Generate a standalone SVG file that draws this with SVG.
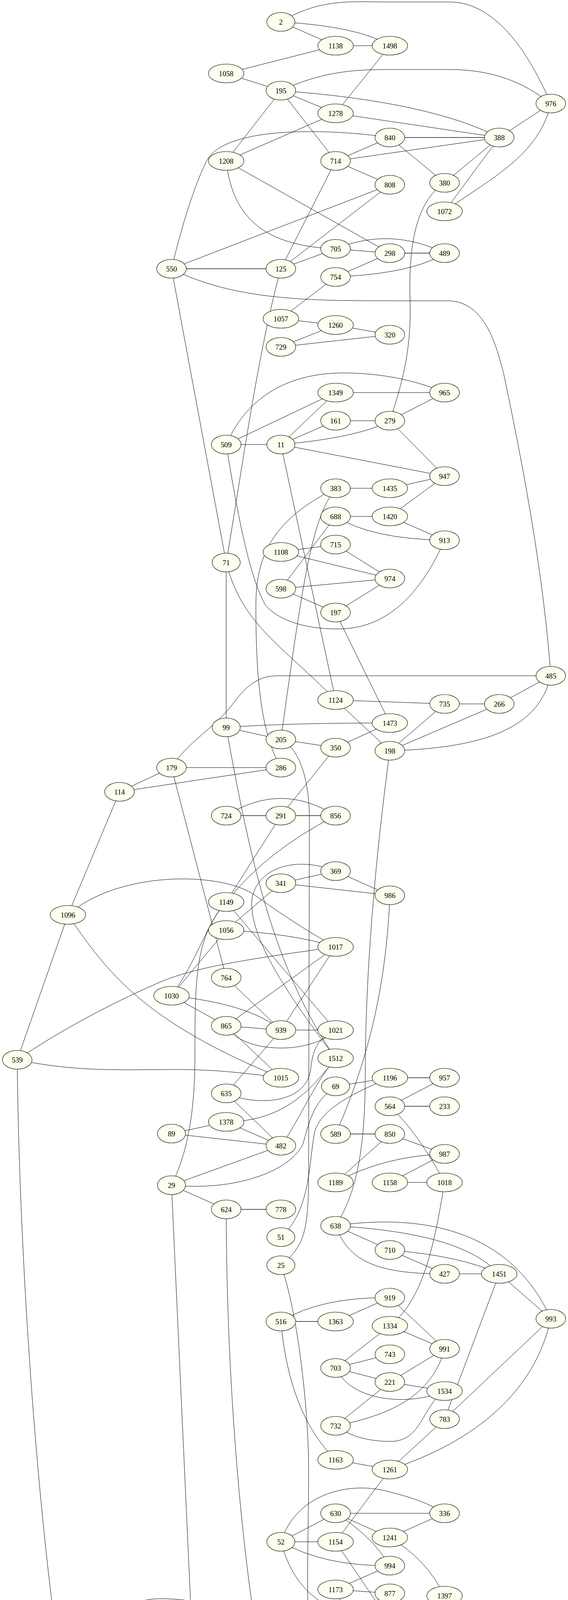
<svg xmlns="http://www.w3.org/2000/svg" width="1454" height="5684" viewBox="0 0 1454 5684">
<style>
.e{fill:none;stroke:#000;stroke-width:1}
.t{fill:none;stroke:#555;stroke-width:2.2}
.n ellipse{fill:#fefeee;stroke:#000;stroke-width:1.1}
.n text{font-family:"Liberation Serif","Times New Roman",serif;font-size:18.67px;text-anchor:middle;fill:#000}
</style>
<rect width="1454" height="5684" fill="#fff"/>
<g id="edges">
<path class="e" d="M719,56 C820,-5 900,5 990,5 L1150,5 C1240,5 1330,80 1410,265"/>
<path class="e" d="M719,56 Q920,68 998,117"/>
<path class="e" d="M719,232 C820,185 900,178 990,178 L1150,178 C1260,178 1340,210 1410,265"/>
<path class="e" d="M719,232 Q1100,260 1278,352"/>
<path class="e" d="M998,352 C850,330 580,320 530,410 C500,470 470,560 439,688"/>
<path class="e" d="M579,412 C595,560 680,630 859,637"/>
<path class="e" d="M859,637 Q1000,580 1138,648"/>
<path class="e" d="M859,709 Q1060,700 1138,648"/>
<path class="e" d="M439,688 C600,770 800,770 1000,770 L1145,770 C1240,770 1270,880 1290,960 C1330,1150 1390,1450 1410,1730"/>
<path class="e" d="M579,1138 C640,1000 760,950 900,955 C1000,958 1080,980 1138,1005"/>
<path class="e" d="M719,1138 Q920,1120 998,1077"/>
<path class="e" d="M859,1322 Q950,1380 1138,1383"/>
<path class="e" d="M579,1138 C610,1330 640,1480 680,1550 C720,1595 800,1612 872,1610 C960,1608 1060,1560 1138,1383"/>
<path class="e" d="M859,1250 C700,1330 655,1420 655,1550 C655,1750 670,1880 719,1965"/>
<path class="e" d="M579,1440 C620,1600 720,1650 859,1792"/>
<path class="e" d="M1410,1730 L710,1730 C650,1730 620,1770 590,1810 C540,1870 480,1900 439,1965"/>
<path class="e" d="M1410,1730 C1380,1860 1250,1915 998,1922"/>
<path class="e" d="M174,2342 C280,2500 380,2620 719,2759"/>
<path class="e" d="M579,2381 Q750,2390 859,2424"/>
<path class="e" d="M859,2424 C680,2450 520,2470 420,2510 C300,2560 150,2640 44,2713"/>
<path class="e" d="M439,2549 Q640,2570 719,2637"/>
<path class="e" d="M579,2626 C620,2700 800,2700 859,2637"/>
<path class="e" d="M44,2713 C200,2745 300,2738 460,2738 C560,2738 650,2750 719,2759"/>
<path class="e" d="M579,2799 C650,2830 780,2830 795,2740 C800,2690 810,2660 859,2637"/>
<path class="e" d="M579,2872 C720,2870 790,2800 859,2709"/>
<path class="e" d="M719,2933 C760,2880 800,2780 859,2709"/>
<path class="e" d="M439,3034 C600,3050 740,3000 775,2930 C790,2880 800,2820 859,2781"/>
<path class="e" d="M719,1893 C770,1920 792,2000 792,2100 L790,3000 C790,3150 780,3190 719,3239"/>
<path class="e" d="M998,2759 C900,2800 820,2840 805,2900 C790,2980 795,3100 719,3167"/>
<path class="e" d="M859,3138 C890,3220 950,3262 1138,3261"/>
<path class="e" d="M859,3138 C1050,3150 1200,3180 1278,3261"/>
<path class="e" d="M859,3138 C1050,3110 1300,3130 1410,3376"/>
<path class="e" d="M998,3200 Q1180,3215 1278,3261"/>
<path class="e" d="M1410,3376 C1370,3560 1220,3690 998,3762"/>
<path class="e" d="M719,3383 Q820,3320 998,3322"/>
<path class="e" d="M859,3502 C900,3590 1050,3600 1138,3561"/>
<path class="e" d="M1138,3453 C1110,3560 1020,3620 859,3650"/>
<path class="e" d="M1138,3561 C1080,3600 1080,3690 1000,3690 C950,3690 900,3680 859,3650"/>
<path class="e" d="M719,3947 C760,3820 900,3790 1000,3820 C1060,3835 1100,3850 1138,3874"/>
<path class="e" d="M859,3874 Q950,3930 998,4008"/>
<path class="e" d="M719,3947 Q830,4010 998,4008"/>
<path class="e" d="M719,3947 C750,4060 820,4140 998,4152"/>
<path class="e" d="M306,4136 C360,4070 440,4095 600,4110 C700,4125 780,4150 859,4192"/>
<path class="e" d="M306,4136 Q380,4195 579,4192"/>
<path class="e" d="M439,4136 Q700,4150 859,4192"/>
<path class="e" d="M439,4278 Q640,4250 719,4319"/>
<path class="e" d="M998,4152 C930,4210 950,4330 719,4319"/>
<path class="e" d="M439,4278 C380,4350 370,4450 366,4490 C360,4530 340,4560 306,4581"/>
<path class="e" d="M439,4437 C600,4460 880,4450 998,4372"/>
<path class="e" d="M439,4509 Q640,4500 719,4581"/>
<path class="e" d="M439,4581 Q580,4615 719,4581"/>
<path class="e" d="M306,4581 C380,4650 600,4640 719,4581"/>
<path class="e" d="M859,4592 Q1000,4510 1138,4586"/>
<path class="e" d="M719,4653 C900,4655 1050,4640 1138,4586"/>
<path class="e" d="M44,2713 C50,3300 110,4100 200,4530 C230,4670 260,4722 320,4722 L610,4722 C700,4712 770,4715 800,4780 C815,4810 830,4840 859,4856"/>
<path class="e" d="M439,4845 Q660,4850 719,4928"/>
<path class="e" d="M439,4942 Q620,4960 719,4928"/>
<path class="e" d="M439,5321 Q640,5290 719,5266"/>
<path class="e" d="M579,2088 Q719,2000 859,2088"/>
<path class="e" d="M859,2230 C760,2190 660,2220 645,2300 C635,2400 740,2550 859,2709"/>
<path class="e" d="M579,1862 C640,2200 700,2480 859,2709"/>
<path class="e" d="M174,2342 C300,2230 560,2230 650,2290 C720,2340 780,2380 859,2424"/>
<path class="e" d="M579,2309 C530,2360 510,2450 439,2549"/>
<path class="e" d="M579,2309 C500,2400 499,2500 499,2700 C499,2850 480,2950 439,3034"/>
<path class="e" d="M859,2088 Q680,2180 579,2309"/>
<path class="e" d="M859,1250 C800,1330 780,1450 719,1893"/>
<path class="e" d="M719,688 C660,900 620,1200 579,1440"/>
<path class="e" d="M1138,468 C1060,520 1045,640 1050,780 C1052,900 1030,980 998,1077"/>
<path class="e" d="M1410,265 C1380,400 1250,460 1138,541"/>
<path class="e" d="M859,4386 Q820,4560 719,4653"/>
<path class="e" d="M579,3096 C580,3550 620,4100 719,4509"/>
<path class="e" d="M998,1922 C960,2200 935,2500 935,2750 C935,2950 910,3060 859,3138"/>
<path class="e" d="M998,2292 C990,2500 950,2700 859,2903"/>
<path class="e" d="M998,2832 Q1070,2900 1138,3027"/>
<path class="e" d="M1138,3027 C1110,3200 1080,3330 998,3394"/>
<path class="e" d="M719,3239 C760,3350 790,3600 790,3760 C790,3950 780,4150 800,4260 C810,4320 830,4360 859,4386"/>
<path class="e" d="M439,3034 L533,5090 Q540,5150 579,5177"/>
<path class="e" d="M859,3027 Q980,2960 1138,2954"/>
<path class="e" d="M719,3383 Q740,3620 859,3737"/>
<path class="e" d="M719,4509 Q610,4640 579,4783"/>
<path class="e" d="M719,56 L859,117"/>
<path class="e" d="M859,117 L998,117"/>
<path class="e" d="M859,117 L579,188"/>
<path class="e" d="M998,117 L859,290"/>
<path class="e" d="M579,188 L719,232"/>
<path class="e" d="M719,232 L859,290"/>
<path class="e" d="M719,232 L579,412"/>
<path class="e" d="M719,232 L859,412"/>
<path class="e" d="M859,290 L1278,352"/>
<path class="e" d="M859,290 L579,412"/>
<path class="e" d="M998,352 L859,412"/>
<path class="e" d="M998,352 L1138,468"/>
<path class="e" d="M859,412 L1278,352"/>
<path class="e" d="M1278,352 L1138,468"/>
<path class="e" d="M1410,265 L1278,352"/>
<path class="e" d="M1278,352 L1138,541"/>
<path class="e" d="M859,412 L998,473"/>
<path class="e" d="M859,412 L719,688"/>
<path class="e" d="M579,412 L998,648"/>
<path class="e" d="M998,473 L439,688"/>
<path class="e" d="M998,473 L719,688"/>
<path class="e" d="M859,637 L998,648"/>
<path class="e" d="M859,637 L719,688"/>
<path class="e" d="M998,648 L859,709"/>
<path class="e" d="M859,709 L719,816"/>
<path class="e" d="M719,816 L859,832"/>
<path class="e" d="M859,832 L998,857"/>
<path class="e" d="M719,888 L859,832"/>
<path class="e" d="M719,888 L998,857"/>
<path class="e" d="M439,688 L579,1440"/>
<path class="e" d="M859,1005 L1138,1005"/>
<path class="e" d="M579,1138 L859,1005"/>
<path class="e" d="M719,1138 L859,1005"/>
<path class="e" d="M859,1077 L998,1077"/>
<path class="e" d="M719,1138 L859,1077"/>
<path class="e" d="M998,1077 L1138,1005"/>
<path class="e" d="M998,1077 L1138,1219"/>
<path class="e" d="M719,1138 L1138,1219"/>
<path class="e" d="M579,1138 L719,1138"/>
<path class="e" d="M859,1250 L998,1250"/>
<path class="e" d="M998,1250 L1138,1219"/>
<path class="e" d="M859,1322 L998,1322"/>
<path class="e" d="M998,1322 L1138,1219"/>
<path class="e" d="M998,1322 L1138,1383"/>
<path class="e" d="M719,1413 L859,1394"/>
<path class="e" d="M719,1413 L998,1481"/>
<path class="e" d="M859,1394 L998,1481"/>
<path class="e" d="M719,1507 L998,1481"/>
<path class="e" d="M719,1507 L859,1568"/>
<path class="e" d="M998,1481 L859,1568"/>
<path class="e" d="M859,1322 L719,1507"/>
<path class="e" d="M719,1138 L859,1792"/>
<path class="e" d="M579,1440 L579,1862"/>
<path class="e" d="M859,1568 L998,1851"/>
<path class="e" d="M859,1792 L1138,1802"/>
<path class="e" d="M1138,1802 L1278,1802"/>
<path class="e" d="M1410,1730 L1278,1802"/>
<path class="e" d="M1278,1802 L998,1922"/>
<path class="e" d="M1138,1802 L998,1922"/>
<path class="e" d="M859,1792 L998,1922"/>
<path class="e" d="M579,1862 Q760,1850 998,1851"/>
<path class="e" d="M579,1862 L719,1893"/>
<path class="e" d="M998,1851 L859,1914"/>
<path class="e" d="M719,1893 L859,1914"/>
<path class="e" d="M859,1914 L719,2088"/>
<path class="e" d="M439,1965 L719,1965"/>
<path class="e" d="M439,1965 L306,2027"/>
<path class="e" d="M306,2027 L719,1965"/>
<path class="e" d="M306,2027 L174,2342"/>
<path class="e" d="M719,2088 L579,2309"/>
<path class="e" d="M859,2230 L719,2261"/>
<path class="e" d="M859,2230 L998,2292"/>
<path class="e" d="M719,2261 L998,2292"/>
<path class="e" d="M719,2261 L579,2381"/>
<path class="e" d="M579,2309 L859,2637"/>
<path class="e" d="M439,1965 L579,2503"/>
<path class="e" d="M174,2342 L44,2713"/>
<path class="e" d="M579,2381 L439,2549"/>
<path class="e" d="M439,2549 L579,2626"/>
<path class="e" d="M579,2503 L719,2637"/>
<path class="e" d="M859,2424 L579,2626"/>
<path class="e" d="M859,2424 L719,2637"/>
<path class="e" d="M579,2626 L719,2637"/>
<path class="e" d="M719,2637 L859,2637"/>
<path class="e" d="M579,2626 L719,2759"/>
<path class="e" d="M719,2637 L579,2799"/>
<path class="e" d="M859,2781 L998,2759"/>
<path class="e" d="M1138,2759 L998,2832"/>
<path class="e" d="M579,2799 L719,2933"/>
<path class="e" d="M579,2872 L439,2902"/>
<path class="e" d="M439,2902 L719,2933"/>
<path class="e" d="M579,2872 L719,2933"/>
<path class="e" d="M719,2933 L439,3034"/>
<path class="e" d="M998,2903 L859,3027"/>
<path class="e" d="M998,2903 L1138,2954"/>
<path class="e" d="M1138,2954 L998,3027"/>
<path class="e" d="M998,3027 L1138,3027"/>
<path class="e" d="M439,3034 L579,3096"/>
<path class="e" d="M859,3138 L998,3200"/>
<path class="e" d="M998,3200 L1138,3261"/>
<path class="e" d="M1138,3261 L1278,3261"/>
<path class="e" d="M1278,3261 L1410,3376"/>
<path class="e" d="M1278,3261 L1138,3633"/>
<path class="e" d="M1410,3376 L1138,3633"/>
<path class="e" d="M1138,3633 L998,3762"/>
<path class="e" d="M859,3737 L998,3762"/>
<path class="e" d="M859,3383 L998,3322"/>
<path class="e" d="M998,3322 L1138,3453"/>
<path class="e" d="M998,3394 L1138,3453"/>
<path class="e" d="M998,3394 L859,3502"/>
<path class="e" d="M859,3502 L998,3467"/>
<path class="e" d="M859,3502 L998,3538"/>
<path class="e" d="M998,3538 L1138,3453"/>
<path class="e" d="M998,3538 L1138,3561"/>
<path class="e" d="M998,3538 L859,3650"/>
<path class="e" d="M998,3762 L859,3947"/>
<path class="e" d="M859,3874 L1138,3874"/>
<path class="e" d="M859,3874 L719,3947"/>
<path class="e" d="M859,3874 L998,3936"/>
<path class="e" d="M1138,3874 L998,3936"/>
<path class="e" d="M719,3947 L859,3947"/>
<path class="e" d="M859,3947 L998,4152"/>
<path class="e" d="M998,4008 L859,4069"/>
<path class="e" d="M859,4069 L998,4079"/>
<path class="e" d="M859,4069 L998,4372"/>
<path class="e" d="M998,3936 Q1090,3990 1138,4085"/>
<path class="e" d="M1138,4085 L998,4223"/>
<path class="e" d="M439,4136 L579,4192"/>
<path class="e" d="M859,4192 L998,4152"/>
<path class="e" d="M579,4192 L439,4278"/>
<path class="e" d="M579,4192 L719,4319"/>
<path class="e" d="M859,4192 L719,4247"/>
<path class="e" d="M859,4192 L719,4319"/>
<path class="e" d="M719,4247 L859,4263"/>
<path class="e" d="M439,4278 L579,4314"/>
<path class="e" d="M579,4314 L439,4357"/>
<path class="e" d="M439,4357 L579,4386"/>
<path class="e" d="M579,4386 L439,4437"/>
<path class="e" d="M439,4437 L579,4559"/>
<path class="e" d="M306,4509 L439,4509"/>
<path class="e" d="M439,4509 L306,4581"/>
<path class="e" d="M306,4581 L439,4581"/>
<path class="e" d="M439,4581 L579,4559"/>
<path class="e" d="M579,4559 L719,4581"/>
<path class="e" d="M719,4653 L859,4592"/>
<path class="e" d="M998,4592 L1138,4586"/>
<path class="e" d="M1138,4586 L1278,4658"/>
<path class="e" d="M1138,4658 L1278,4658"/>
<path class="e" d="M1138,4658 L998,4729"/>
<path class="e" d="M1278,4658 L1138,4730"/>
<path class="e" d="M579,4783 L439,4845"/>
<path class="e" d="M719,4783 L859,4958"/>
<path class="e" d="M859,4783 L998,4729"/>
<path class="e" d="M859,4783 L1138,4802"/>
<path class="e" d="M859,4783 L998,4852"/>
<path class="e" d="M998,4729 L1138,4802"/>
<path class="e" d="M1138,4802 L998,4852"/>
<path class="e" d="M998,4852 L1138,4874"/>
<path class="e" d="M1138,4874 L1278,4874"/>
<path class="e" d="M439,4845 L579,4907"/>
<path class="e" d="M719,4856 L579,4907"/>
<path class="e" d="M579,4907 L719,4928"/>
<path class="e" d="M579,4907 L439,4942"/>
<path class="e" d="M859,4958 L719,4999"/>
<path class="e" d="M719,4999 L579,5061"/>
<path class="e" d="M719,4999 L859,5061"/>
<path class="e" d="M579,5061 L859,5061"/>
<path class="e" d="M859,5061 L719,5122"/>
<path class="e" d="M579,5061 L719,5194"/>
<path class="e" d="M579,5177 L719,5266"/>
<path class="e" d="M579,5259 L719,5266"/>
<path class="e" d="M579,5259 L439,5321"/>
<path class="e" d="M439,5321 L579,5382"/>
<path class="e" d="M579,5382 L719,5361"/>
<path class="e" d="M579,5382 L719,5433"/>
<path class="e" d="M719,5433 L859,5433"/>
<path class="e" d="M719,5433 L579,5459"/>
<path class="e" d="M579,5459 L719,5504"/>
<path class="e" d="M579,5459 L439,5562"/>
<path class="e" d="M439,5562 L579,5532"/>
<path class="e" d="M579,5532 L719,5587"/>
<path class="e" d="M439,5562 L719,5587"/>
<path class="e" d="M439,5562 L579,5654"/>
<path class="t" d="M998,352 L1278,352"/>
<path class="t" d="M439,688 L719,688"/>
<path class="t" d="M998,648 L1138,648"/>
<path class="t" d="M579,2088 L719,2088"/>
<path class="t" d="M719,2088 L859,2088"/>
<path class="t" d="M998,2759 L1138,2759"/>
<path class="t" d="M998,2832 L1138,2832"/>
<path class="t" d="M859,2903 L998,2903"/>
<path class="t" d="M579,3096 L719,3096"/>
<path class="t" d="M719,3383 L859,3383"/>
<path class="t" d="M859,4592 L998,4592"/>
<path class="t" d="M579,4192 L859,4192"/>
<path class="t" d="M306,4136 L439,4136"/>
<path class="t" d="M579,4783 L719,4783"/>
<path class="t" d="M719,4856 L859,4856"/>
</g>
<g id="nodes">
<g id="n2" class="n"><ellipse cx="719" cy="56" rx="36" ry="24"/><text x="719" y="62.5">2</text></g>
<g id="n1138" class="n"><ellipse cx="859" cy="117" rx="45.5" ry="24"/><text x="859" y="123.5">1138</text></g>
<g id="n1498" class="n"><ellipse cx="998" cy="117" rx="45.5" ry="24"/><text x="998" y="123.5">1498</text></g>
<g id="n1058" class="n"><ellipse cx="579" cy="188" rx="45.5" ry="24"/><text x="579" y="194.5">1058</text></g>
<g id="n195" class="n"><ellipse cx="719" cy="232" rx="38" ry="24"/><text x="719" y="238.5">195</text></g>
<g id="n976" class="n"><ellipse cx="1410" cy="265" rx="38" ry="24"/><text x="1410" y="271.5">976</text></g>
<g id="n1278" class="n"><ellipse cx="859" cy="290" rx="45.5" ry="24"/><text x="859" y="296.5">1278</text></g>
<g id="n840" class="n"><ellipse cx="998" cy="352" rx="38" ry="24"/><text x="998" y="358.5">840</text></g>
<g id="n388" class="n"><ellipse cx="1278" cy="352" rx="38" ry="24"/><text x="1278" y="358.5">388</text></g>
<g id="n1208" class="n"><ellipse cx="579" cy="412" rx="45.5" ry="24"/><text x="579" y="418.5">1208</text></g>
<g id="n714" class="n"><ellipse cx="859" cy="412" rx="38" ry="24"/><text x="859" y="418.5">714</text></g>
<g id="n808" class="n"><ellipse cx="998" cy="473" rx="38" ry="24"/><text x="998" y="479.5">808</text></g>
<g id="n380" class="n"><ellipse cx="1138" cy="468" rx="38" ry="24"/><text x="1138" y="474.5">380</text></g>
<g id="n1072" class="n"><ellipse cx="1138" cy="541" rx="45.5" ry="24"/><text x="1138" y="547.5">1072</text></g>
<g id="n705" class="n"><ellipse cx="859" cy="637" rx="38" ry="24"/><text x="859" y="643.5">705</text></g>
<g id="n298" class="n"><ellipse cx="998" cy="648" rx="38" ry="24"/><text x="998" y="654.5">298</text></g>
<g id="n489" class="n"><ellipse cx="1138" cy="648" rx="38" ry="24"/><text x="1138" y="654.5">489</text></g>
<g id="n550" class="n"><ellipse cx="439" cy="688" rx="38" ry="24"/><text x="439" y="694.5">550</text></g>
<g id="n125" class="n"><ellipse cx="719" cy="688" rx="38" ry="24"/><text x="719" y="694.5">125</text></g>
<g id="n754" class="n"><ellipse cx="859" cy="709" rx="38" ry="24"/><text x="859" y="715.5">754</text></g>
<g id="n1057" class="n"><ellipse cx="719" cy="816" rx="45.5" ry="24"/><text x="719" y="822.5">1057</text></g>
<g id="n1260" class="n"><ellipse cx="859" cy="832" rx="45.5" ry="24"/><text x="859" y="838.5">1260</text></g>
<g id="n320" class="n"><ellipse cx="998" cy="857" rx="38" ry="24"/><text x="998" y="863.5">320</text></g>
<g id="n729" class="n"><ellipse cx="719" cy="888" rx="38" ry="24"/><text x="719" y="894.5">729</text></g>
<g id="n1349" class="n"><ellipse cx="859" cy="1005" rx="45.5" ry="24"/><text x="859" y="1011.5">1349</text></g>
<g id="n965" class="n"><ellipse cx="1138" cy="1005" rx="38" ry="24"/><text x="1138" y="1011.5">965</text></g>
<g id="n161" class="n"><ellipse cx="859" cy="1077" rx="38" ry="24"/><text x="859" y="1083.5">161</text></g>
<g id="n279" class="n"><ellipse cx="998" cy="1077" rx="38" ry="24"/><text x="998" y="1083.5">279</text></g>
<g id="n509" class="n"><ellipse cx="579" cy="1138" rx="38" ry="24"/><text x="579" y="1144.5">509</text></g>
<g id="n11" class="n"><ellipse cx="719" cy="1138" rx="36" ry="24"/><text x="719" y="1144.5">11</text></g>
<g id="n947" class="n"><ellipse cx="1138" cy="1219" rx="38" ry="24"/><text x="1138" y="1225.5">947</text></g>
<g id="n383" class="n"><ellipse cx="859" cy="1250" rx="38" ry="24"/><text x="859" y="1256.5">383</text></g>
<g id="n1435" class="n"><ellipse cx="998" cy="1250" rx="45.5" ry="24"/><text x="998" y="1256.5">1435</text></g>
<g id="n688" class="n"><ellipse cx="859" cy="1322" rx="38" ry="24"/><text x="859" y="1328.5">688</text></g>
<g id="n1420" class="n"><ellipse cx="998" cy="1322" rx="45.5" ry="24"/><text x="998" y="1328.5">1420</text></g>
<g id="n913" class="n"><ellipse cx="1138" cy="1383" rx="38" ry="24"/><text x="1138" y="1389.5">913</text></g>
<g id="n715" class="n"><ellipse cx="859" cy="1394" rx="38" ry="24"/><text x="859" y="1400.5">715</text></g>
<g id="n1108" class="n"><ellipse cx="719" cy="1413" rx="45.5" ry="24"/><text x="719" y="1419.5">1108</text></g>
<g id="n71" class="n"><ellipse cx="579" cy="1440" rx="36" ry="24"/><text x="579" y="1446.5">71</text></g>
<g id="n974" class="n"><ellipse cx="998" cy="1481" rx="38" ry="24"/><text x="998" y="1487.5">974</text></g>
<g id="n598" class="n"><ellipse cx="719" cy="1507" rx="38" ry="24"/><text x="719" y="1513.5">598</text></g>
<g id="n197" class="n"><ellipse cx="859" cy="1568" rx="38" ry="24"/><text x="859" y="1574.5">197</text></g>
<g id="n485" class="n"><ellipse cx="1410" cy="1730" rx="38" ry="24"/><text x="1410" y="1736.5">485</text></g>
<g id="n1124" class="n"><ellipse cx="859" cy="1792" rx="45.5" ry="24"/><text x="859" y="1798.5">1124</text></g>
<g id="n735" class="n"><ellipse cx="1138" cy="1802" rx="38" ry="24"/><text x="1138" y="1808.5">735</text></g>
<g id="n266" class="n"><ellipse cx="1278" cy="1802" rx="38" ry="24"/><text x="1278" y="1808.5">266</text></g>
<g id="n1473" class="n"><ellipse cx="998" cy="1851" rx="45.5" ry="24"/><text x="998" y="1857.5">1473</text></g>
<g id="n99" class="n"><ellipse cx="579" cy="1862" rx="36" ry="24"/><text x="579" y="1868.5">99</text></g>
<g id="n205" class="n"><ellipse cx="719" cy="1893" rx="38" ry="24"/><text x="719" y="1899.5">205</text></g>
<g id="n350" class="n"><ellipse cx="859" cy="1914" rx="38" ry="24"/><text x="859" y="1920.5">350</text></g>
<g id="n198" class="n"><ellipse cx="998" cy="1922" rx="38" ry="24"/><text x="998" y="1928.5">198</text></g>
<g id="n179" class="n"><ellipse cx="439" cy="1965" rx="38" ry="24"/><text x="439" y="1971.5">179</text></g>
<g id="n286" class="n"><ellipse cx="719" cy="1965" rx="38" ry="24"/><text x="719" y="1971.5">286</text></g>
<g id="n114" class="n"><ellipse cx="306" cy="2027" rx="38" ry="24"/><text x="306" y="2033.5">114</text></g>
<g id="n724" class="n"><ellipse cx="579" cy="2088" rx="38" ry="24"/><text x="579" y="2094.5">724</text></g>
<g id="n291" class="n"><ellipse cx="719" cy="2088" rx="38" ry="24"/><text x="719" y="2094.5">291</text></g>
<g id="n856" class="n"><ellipse cx="859" cy="2088" rx="38" ry="24"/><text x="859" y="2094.5">856</text></g>
<g id="n369" class="n"><ellipse cx="859" cy="2230" rx="38" ry="24"/><text x="859" y="2236.5">369</text></g>
<g id="n341" class="n"><ellipse cx="719" cy="2261" rx="38" ry="24"/><text x="719" y="2267.5">341</text></g>
<g id="n986" class="n"><ellipse cx="998" cy="2292" rx="38" ry="24"/><text x="998" y="2298.5">986</text></g>
<g id="n1149" class="n"><ellipse cx="579" cy="2309" rx="45.5" ry="24"/><text x="579" y="2315.5">1149</text></g>
<g id="n1096" class="n"><ellipse cx="174" cy="2342" rx="45.5" ry="24"/><text x="174" y="2348.5">1096</text></g>
<g id="n1056" class="n"><ellipse cx="579" cy="2381" rx="45.5" ry="24"/><text x="579" y="2387.5">1056</text></g>
<g id="n1017" class="n"><ellipse cx="859" cy="2424" rx="45.5" ry="24"/><text x="859" y="2430.5">1017</text></g>
<g id="n764" class="n"><ellipse cx="579" cy="2503" rx="38" ry="24"/><text x="579" y="2509.5">764</text></g>
<g id="n1030" class="n"><ellipse cx="439" cy="2549" rx="45.5" ry="24"/><text x="439" y="2555.5">1030</text></g>
<g id="n865" class="n"><ellipse cx="579" cy="2626" rx="38" ry="24"/><text x="579" y="2632.5">865</text></g>
<g id="n939" class="n"><ellipse cx="719" cy="2637" rx="38" ry="24"/><text x="719" y="2643.5">939</text></g>
<g id="n1021" class="n"><ellipse cx="859" cy="2637" rx="45.5" ry="24"/><text x="859" y="2643.5">1021</text></g>
<g id="n539" class="n"><ellipse cx="44" cy="2713" rx="38" ry="24"/><text x="44" y="2719.5">539</text></g>
<g id="n1512" class="n"><ellipse cx="859" cy="2709" rx="45.5" ry="24"/><text x="859" y="2715.5">1512</text></g>
<g id="n1015" class="n"><ellipse cx="719" cy="2759" rx="45.5" ry="24"/><text x="719" y="2765.5">1015</text></g>
<g id="n1196" class="n"><ellipse cx="998" cy="2759" rx="45.5" ry="24"/><text x="998" y="2765.5">1196</text></g>
<g id="n957" class="n"><ellipse cx="1138" cy="2759" rx="38" ry="24"/><text x="1138" y="2765.5">957</text></g>
<g id="n69" class="n"><ellipse cx="859" cy="2781" rx="36" ry="24"/><text x="859" y="2787.5">69</text></g>
<g id="n635" class="n"><ellipse cx="579" cy="2799" rx="38" ry="24"/><text x="579" y="2805.5">635</text></g>
<g id="n564" class="n"><ellipse cx="998" cy="2832" rx="38" ry="24"/><text x="998" y="2838.5">564</text></g>
<g id="n233" class="n"><ellipse cx="1138" cy="2832" rx="38" ry="24"/><text x="1138" y="2838.5">233</text></g>
<g id="n1378" class="n"><ellipse cx="579" cy="2872" rx="45.5" ry="24"/><text x="579" y="2878.5">1378</text></g>
<g id="n89" class="n"><ellipse cx="439" cy="2902" rx="36" ry="24"/><text x="439" y="2908.5">89</text></g>
<g id="n589" class="n"><ellipse cx="859" cy="2903" rx="38" ry="24"/><text x="859" y="2909.5">589</text></g>
<g id="n850" class="n"><ellipse cx="998" cy="2903" rx="38" ry="24"/><text x="998" y="2909.5">850</text></g>
<g id="n482" class="n"><ellipse cx="719" cy="2933" rx="38" ry="24"/><text x="719" y="2939.5">482</text></g>
<g id="n987" class="n"><ellipse cx="1138" cy="2954" rx="38" ry="24"/><text x="1138" y="2960.5">987</text></g>
<g id="n1189" class="n"><ellipse cx="859" cy="3027" rx="45.5" ry="24"/><text x="859" y="3033.5">1189</text></g>
<g id="n1158" class="n"><ellipse cx="998" cy="3027" rx="45.5" ry="24"/><text x="998" y="3033.5">1158</text></g>
<g id="n1018" class="n"><ellipse cx="1138" cy="3027" rx="45.5" ry="24"/><text x="1138" y="3033.5">1018</text></g>
<g id="n29" class="n"><ellipse cx="439" cy="3034" rx="36" ry="24"/><text x="439" y="3040.5">29</text></g>
<g id="n624" class="n"><ellipse cx="579" cy="3096" rx="38" ry="24"/><text x="579" y="3102.5">624</text></g>
<g id="n778" class="n"><ellipse cx="719" cy="3096" rx="38" ry="24"/><text x="719" y="3102.5">778</text></g>
<g id="n638" class="n"><ellipse cx="859" cy="3138" rx="38" ry="24"/><text x="859" y="3144.5">638</text></g>
<g id="n51" class="n"><ellipse cx="719" cy="3167" rx="36" ry="24"/><text x="719" y="3173.5">51</text></g>
<g id="n710" class="n"><ellipse cx="998" cy="3200" rx="38" ry="24"/><text x="998" y="3206.5">710</text></g>
<g id="n25" class="n"><ellipse cx="719" cy="3239" rx="36" ry="24"/><text x="719" y="3245.5">25</text></g>
<g id="n427" class="n"><ellipse cx="1138" cy="3261" rx="38" ry="24"/><text x="1138" y="3267.5">427</text></g>
<g id="n1451" class="n"><ellipse cx="1278" cy="3261" rx="45.5" ry="24"/><text x="1278" y="3267.5">1451</text></g>
<g id="n919" class="n"><ellipse cx="998" cy="3322" rx="38" ry="24"/><text x="998" y="3328.5">919</text></g>
<g id="n993" class="n"><ellipse cx="1410" cy="3376" rx="38" ry="24"/><text x="1410" y="3382.5">993</text></g>
<g id="n516" class="n"><ellipse cx="719" cy="3383" rx="38" ry="24"/><text x="719" y="3389.5">516</text></g>
<g id="n1363" class="n"><ellipse cx="859" cy="3383" rx="45.5" ry="24"/><text x="859" y="3389.5">1363</text></g>
<g id="n1334" class="n"><ellipse cx="998" cy="3394" rx="45.5" ry="24"/><text x="998" y="3400.5">1334</text></g>
<g id="n991" class="n"><ellipse cx="1138" cy="3453" rx="38" ry="24"/><text x="1138" y="3459.5">991</text></g>
<g id="n743" class="n"><ellipse cx="998" cy="3467" rx="38" ry="24"/><text x="998" y="3473.5">743</text></g>
<g id="n703" class="n"><ellipse cx="859" cy="3502" rx="38" ry="24"/><text x="859" y="3508.5">703</text></g>
<g id="n221" class="n"><ellipse cx="998" cy="3538" rx="38" ry="24"/><text x="998" y="3544.5">221</text></g>
<g id="n1534" class="n"><ellipse cx="1138" cy="3561" rx="45.5" ry="24"/><text x="1138" y="3567.5">1534</text></g>
<g id="n783" class="n"><ellipse cx="1138" cy="3633" rx="38" ry="24"/><text x="1138" y="3639.5">783</text></g>
<g id="n732" class="n"><ellipse cx="859" cy="3650" rx="38" ry="24"/><text x="859" y="3656.5">732</text></g>
<g id="n1163" class="n"><ellipse cx="859" cy="3737" rx="45.5" ry="24"/><text x="859" y="3743.5">1163</text></g>
<g id="n1261" class="n"><ellipse cx="998" cy="3762" rx="45.5" ry="24"/><text x="998" y="3768.5">1261</text></g>
<g id="n630" class="n"><ellipse cx="859" cy="3874" rx="38" ry="24"/><text x="859" y="3880.5">630</text></g>
<g id="n336" class="n"><ellipse cx="1138" cy="3874" rx="38" ry="24"/><text x="1138" y="3880.5">336</text></g>
<g id="n1241" class="n"><ellipse cx="998" cy="3936" rx="45.5" ry="24"/><text x="998" y="3942.5">1241</text></g>
<g id="n52" class="n"><ellipse cx="719" cy="3947" rx="36" ry="24"/><text x="719" y="3953.5">52</text></g>
<g id="n1154" class="n"><ellipse cx="859" cy="3947" rx="45.5" ry="24"/><text x="859" y="3953.5">1154</text></g>
<g id="n994" class="n"><ellipse cx="998" cy="4008" rx="38" ry="24"/><text x="998" y="4014.5">994</text></g>
<g id="n1173" class="n"><ellipse cx="859" cy="4069" rx="45.5" ry="24"/><text x="859" y="4075.5">1173</text></g>
<g id="n877" class="n"><ellipse cx="998" cy="4079" rx="38" ry="24"/><text x="998" y="4085.5">877</text></g>
<g id="n1397" class="n"><ellipse cx="1138" cy="4085" rx="45.5" ry="24"/><text x="1138" y="4091.5">1397</text></g>
<g id="n510" class="n"><ellipse cx="306" cy="4136" rx="38" ry="24"/><text x="306" y="4142.5">510</text></g>
<g id="n810" class="n"><ellipse cx="439" cy="4136" rx="38" ry="24"/><text x="439" y="4142.5">810</text></g>
<g id="n1005" class="n"><ellipse cx="998" cy="4152" rx="45.5" ry="24"/><text x="998" y="4158.5">1005</text></g>
<g id="n820" class="n"><ellipse cx="579" cy="4192" rx="38" ry="24"/><text x="579" y="4198.5">820</text></g>
<g id="n944" class="n"><ellipse cx="859" cy="4192" rx="38" ry="24"/><text x="859" y="4198.5">944</text></g>
<g id="n713" class="n"><ellipse cx="998" cy="4223" rx="38" ry="24"/><text x="998" y="4229.5">713</text></g>
<g id="n588" class="n"><ellipse cx="719" cy="4247" rx="38" ry="24"/><text x="719" y="4253.5">588</text></g>
<g id="n304" class="n"><ellipse cx="859" cy="4263" rx="38" ry="24"/><text x="859" y="4269.5">304</text></g>
<g id="n1104" class="n"><ellipse cx="439" cy="4278" rx="45.5" ry="24"/><text x="439" y="4284.5">1104</text></g>
<g id="n230" class="n"><ellipse cx="579" cy="4314" rx="38" ry="24"/><text x="579" y="4320.5">230</text></g>
<g id="n1357" class="n"><ellipse cx="719" cy="4319" rx="45.5" ry="24"/><text x="719" y="4325.5">1357</text></g>
<g id="n701" class="n"><ellipse cx="439" cy="4357" rx="38" ry="24"/><text x="439" y="4363.5">701</text></g>
<g id="n676" class="n"><ellipse cx="998" cy="4372" rx="38" ry="24"/><text x="998" y="4378.5">676</text></g>
<g id="n244" class="n"><ellipse cx="579" cy="4386" rx="38" ry="24"/><text x="579" y="4392.5">244</text></g>
<g id="n1379" class="n"><ellipse cx="859" cy="4386" rx="45.5" ry="24"/><text x="859" y="4392.5">1379</text></g>
<g id="n131" class="n"><ellipse cx="439" cy="4437" rx="38" ry="24"/><text x="439" y="4443.5">131</text></g>
<g id="n115" class="n"><ellipse cx="306" cy="4509" rx="38" ry="24"/><text x="306" y="4515.5">115</text></g>
<g id="n1277" class="n"><ellipse cx="439" cy="4509" rx="45.5" ry="24"/><text x="439" y="4515.5">1277</text></g>
<g id="n1524" class="n"><ellipse cx="719" cy="4509" rx="45.5" ry="24"/><text x="719" y="4515.5">1524</text></g>
<g id="n928" class="n"><ellipse cx="579" cy="4559" rx="38" ry="24"/><text x="579" y="4565.5">928</text></g>
<g id="n33" class="n"><ellipse cx="306" cy="4581" rx="36" ry="24"/><text x="306" y="4587.5">33</text></g>
<g id="n103" class="n"><ellipse cx="439" cy="4581" rx="38" ry="24"/><text x="439" y="4587.5">103</text></g>
<g id="n1464" class="n"><ellipse cx="719" cy="4581" rx="45.5" ry="24"/><text x="719" y="4587.5">1464</text></g>
<g id="n412" class="n"><ellipse cx="1138" cy="4586" rx="38" ry="24"/><text x="1138" y="4592.5">412</text></g>
<g id="n185" class="n"><ellipse cx="859" cy="4592" rx="38" ry="24"/><text x="859" y="4598.5">185</text></g>
<g id="n373" class="n"><ellipse cx="998" cy="4592" rx="38" ry="24"/><text x="998" y="4598.5">373</text></g>
<g id="n32" class="n"><ellipse cx="719" cy="4653" rx="36" ry="24"/><text x="719" y="4659.5">32</text></g>
<g id="n201" class="n"><ellipse cx="1138" cy="4658" rx="38" ry="24"/><text x="1138" y="4664.5">201</text></g>
<g id="n436" class="n"><ellipse cx="1278" cy="4658" rx="38" ry="24"/><text x="1278" y="4664.5">436</text></g>
<g id="n610" class="n"><ellipse cx="998" cy="4729" rx="38" ry="24"/><text x="998" y="4735.5">610</text></g>
<g id="n1418" class="n"><ellipse cx="1138" cy="4730" rx="45.5" ry="24"/><text x="1138" y="4736.5">1418</text></g>
<g id="n174" class="n"><ellipse cx="579" cy="4783" rx="38" ry="24"/><text x="579" y="4789.5">174</text></g>
<g id="n296" class="n"><ellipse cx="719" cy="4783" rx="38" ry="24"/><text x="719" y="4789.5">296</text></g>
<g id="n85" class="n"><ellipse cx="859" cy="4783" rx="36" ry="24"/><text x="859" y="4789.5">85</text></g>
<g id="n824" class="n"><ellipse cx="1138" cy="4802" rx="38" ry="24"/><text x="1138" y="4808.5">824</text></g>
<g id="n1094" class="n"><ellipse cx="439" cy="4845" rx="45.5" ry="24"/><text x="439" y="4851.5">1094</text></g>
<g id="n112" class="n"><ellipse cx="998" cy="4852" rx="38" ry="24"/><text x="998" y="4858.5">112</text></g>
<g id="n1376" class="n"><ellipse cx="719" cy="4856" rx="45.5" ry="24"/><text x="719" y="4862.5">1376</text></g>
<g id="n462" class="n"><ellipse cx="859" cy="4856" rx="38" ry="24"/><text x="859" y="4862.5">462</text></g>
<g id="n893" class="n"><ellipse cx="1138" cy="4874" rx="38" ry="24"/><text x="1138" y="4880.5">893</text></g>
<g id="n1521" class="n"><ellipse cx="1278" cy="4874" rx="45.5" ry="24"/><text x="1278" y="4880.5">1521</text></g>
<g id="n781" class="n"><ellipse cx="579" cy="4907" rx="38" ry="24"/><text x="579" y="4913.5">781</text></g>
<g id="n862" class="n"><ellipse cx="719" cy="4928" rx="38" ry="24"/><text x="719" y="4934.5">862</text></g>
<g id="n95" class="n"><ellipse cx="439" cy="4942" rx="36" ry="24"/><text x="439" y="4948.5">95</text></g>
<g id="n332" class="n"><ellipse cx="859" cy="4958" rx="38" ry="24"/><text x="859" y="4964.5">332</text></g>
<g id="n116" class="n"><ellipse cx="719" cy="4999" rx="38" ry="24"/><text x="719" y="5005.5">116</text></g>
<g id="n519" class="n"><ellipse cx="579" cy="5061" rx="38" ry="24"/><text x="579" y="5067.5">519</text></g>
<g id="n395" class="n"><ellipse cx="859" cy="5061" rx="38" ry="24"/><text x="859" y="5067.5">395</text></g>
<g id="n260" class="n"><ellipse cx="719" cy="5122" rx="38" ry="24"/><text x="719" y="5128.5">260</text></g>
<g id="n181" class="n"><ellipse cx="579" cy="5177" rx="38" ry="24"/><text x="579" y="5183.5">181</text></g>
<g id="n90" class="n"><ellipse cx="719" cy="5194" rx="36" ry="24"/><text x="719" y="5200.5">90</text></g>
<g id="n1351" class="n"><ellipse cx="579" cy="5259" rx="45.5" ry="24"/><text x="579" y="5265.5">1351</text></g>
<g id="n349" class="n"><ellipse cx="719" cy="5266" rx="38" ry="24"/><text x="719" y="5272.5">349</text></g>
<g id="n525" class="n"><ellipse cx="439" cy="5321" rx="38" ry="24"/><text x="439" y="5327.5">525</text></g>
<g id="n1301" class="n"><ellipse cx="719" cy="5361" rx="45.5" ry="24"/><text x="719" y="5367.5">1301</text></g>
<g id="n586" class="n"><ellipse cx="579" cy="5382" rx="38" ry="24"/><text x="579" y="5388.5">586</text></g>
<g id="n328" class="n"><ellipse cx="719" cy="5433" rx="38" ry="24"/><text x="719" y="5439.5">328</text></g>
<g id="n1398" class="n"><ellipse cx="859" cy="5433" rx="45.5" ry="24"/><text x="859" y="5439.5">1398</text></g>
<g id="n180" class="n"><ellipse cx="579" cy="5459" rx="38" ry="24"/><text x="579" y="5465.5">180</text></g>
<g id="n1326" class="n"><ellipse cx="719" cy="5504" rx="45.5" ry="24"/><text x="719" y="5510.5">1326</text></g>
<g id="n843" class="n"><ellipse cx="579" cy="5532" rx="38" ry="24"/><text x="579" y="5538.5">843</text></g>
<g id="n567" class="n"><ellipse cx="439" cy="5562" rx="38" ry="24"/><text x="439" y="5568.5">567</text></g>
<g id="n1463" class="n"><ellipse cx="719" cy="5587" rx="45.5" ry="24"/><text x="719" y="5593.5">1463</text></g>
<g id="n871" class="n"><ellipse cx="579" cy="5654" rx="38" ry="24"/><text x="579" y="5660.5">871</text></g>
</g>
</svg>
